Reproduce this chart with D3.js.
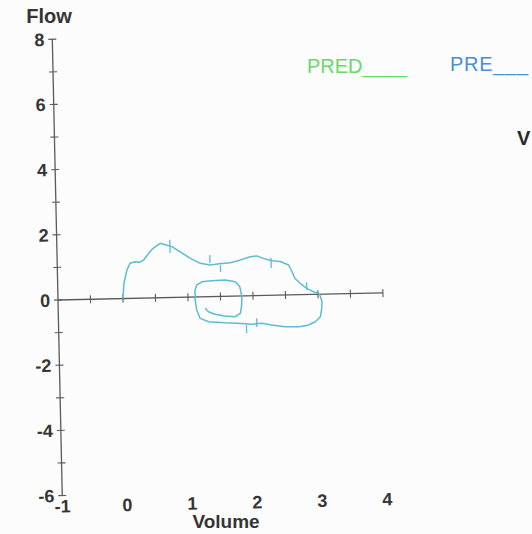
<!DOCTYPE html>
<html>
<head>
<meta charset="utf-8">
<script src="https://cdn.jsdelivr.net/npm/d3@7"></script>
<style>
  html, body { margin: 0; padding: 0; background: #fcfcfc; }
  svg { display: block; font-family: "Liberation Sans", Arial, sans-serif; }
</style>
</head>
<body>
<script>
var width = 532
var height = 534

// flow-volume loop (volume L, flow L/s)
var loopVolume = [0.00, 0.02, 0.07, 0.12, 0.20, 0.27, 0.33, 0.41, 0.48, 0.59, 0.67, 0.77, 0.89, 1.05, 1.20, 1.35,
	1.50, 1.66, 1.81, 1.97, 2.07, 2.17, 2.30, 2.43, 2.56, 2.61, 2.65, 2.73, 2.83, 2.93, 3.01, 3.03, 3.06, 3.05,
	3.03, 2.95, 2.84, 2.69, 2.48, 2.28, 2.13, 1.97, 1.82, 1.56, 1.31, 1.18, 1.13, 1.11, 1.11, 1.14, 1.22, 1.37,
	1.58, 1.73, 1.80, 1.83, 1.82, 1.80, 1.72, 1.56, 1.41, 1.31, 1.26]
var loopFlow = [0.00, 0.47, 0.87, 1.08, 1.12, 1.10, 1.17, 1.37, 1.52, 1.67, 1.62, 1.56, 1.40, 1.19, 1.03, 0.97,
	1.00, 1.03, 1.10, 1.20, 1.22, 1.14, 1.06, 1.03, 0.92, 0.71, 0.51, 0.35, 0.19, 0.08, 0.03, -0.02, -0.23, -0.49,
	-0.69, -0.84, -0.94, -0.98, -0.97, -0.91, -0.85, -0.87, -0.84, -0.81, -0.77, -0.66, -0.40, -0.09, 0.21, 0.37,
	0.46, 0.49, 0.50, 0.44, 0.29, -0.02, -0.33, -0.53, -0.63, -0.60, -0.54, -0.46, -0.35]

// little timing marks on the loop: [volume, flow top, flow bottom]
var loopMarks = [[0.74, 1.77, 1.37], [1.35, 1.28, 1.03], [1.51, 0.96, 0.75], [2.29, 1.15, 0.84],
	[2.83, 0.38, 0.14], [2.05, -0.69, -0.96], [1.89, -0.89, -1.14]]

var yTicks = [-6, -5, -4, -3, -2, -1, 0, 1, 2, 3, 4, 5, 6, 7, 8]
var yLabels = [-6, -4, -2, 0, 2, 4, 6, 8]
var xTicks = [-0.5, 0, 0.5, 1, 1.5, 2, 2.5, 3, 3.5, 4]
var xLabels = [-1, 0, 1, 2, 3, 4]

var svg = d3.select('body')
	.append('svg')
	.attr('width', width)
	.attr('height', height)

svg.append('rect')
	.attr('width', '100%')
	.attr('height', '100%')
	.attr('fill', '#fcfcfc')

var x = d3.scaleLinear().domain([-1, 4]).range([0, 325])
var y = d3.scaleLinear().domain([-6, 8]).range([195.6, -260.8])

// the scanned sheet is a bit tilted
var g = svg.append('g')
	.attr('transform', 'translate(58,300) rotate(-1.25)')

var axisColor = '#5a5a5a'
var textColor = '#353535'

// y axis
g.append('line')
	.attr('x1', x(-1)).attr('x2', x(-1))
	.attr('y1', y(8)).attr('y2', y(-6))
	.attr('stroke', axisColor).attr('stroke-width', 1.3)

g.selectAll('.ytick')
	.data(yTicks)
	.enter()
	.append('line')
	.attr('x1', x(-1) - 4).attr('x2', x(-1) + 4)
	.attr('y1', function(d){ return y(d) })
	.attr('y2', function(d){ return y(d) })
	.attr('stroke', axisColor).attr('stroke-width', 1.1)

g.selectAll('.ylabel')
	.data(yLabels)
	.enter()
	.append('text')
	.attr('x', x(-1) - 8)
	.attr('y', function(d){ return y(d) + 6.5 })
	.attr('text-anchor', 'end')
	.attr('font-size', 18)
	.attr('font-weight', 'bold')
	.attr('fill', textColor)
	.text(function(d){ return d })

// x axis (drawn at flow = 0)
g.append('line')
	.attr('x1', x(-1)).attr('x2', x(4))
	.attr('y1', y(0)).attr('y2', y(0))
	.attr('stroke', axisColor).attr('stroke-width', 1.3)

g.selectAll('.xtick')
	.data(xTicks)
	.enter()
	.append('line')
	.attr('x1', function(d){ return x(d) })
	.attr('x2', function(d){ return x(d) })
	.attr('y1', y(0) - 4).attr('y2', y(0) + 4)
	.attr('stroke', axisColor).attr('stroke-width', 1.1)

g.selectAll('.xlabel')
	.data(xLabels)
	.enter()
	.append('text')
	.attr('x', function(d){ return x(d) })
	.attr('y', y(-6) + 17)
	.attr('text-anchor', 'middle')
	.attr('font-size', 18)
	.attr('font-weight', 'bold')
	.attr('fill', textColor)
	.text(function(d){ return d })

// loop
var loopColor = '#5cbcd4'
var line = d3.line()
	.x(function(d){ return x(d[0]) })
	.y(function(d){ return y(d[1]) })

g.append('path')
	.datum(d3.zip(loopVolume, loopFlow))
	.attr('d', line)
	.attr('fill', 'none')
	.attr('stroke', loopColor)
	.attr('stroke-width', 1.5)
	.attr('stroke-linejoin', 'round')

g.selectAll('.mark')
	.data(loopMarks)
	.enter()
	.append('line')
	.attr('x1', function(d){ return x(d[0]) })
	.attr('x2', function(d){ return x(d[0]) })
	.attr('y1', function(d){ return y(d[1]) })
	.attr('y2', function(d){ return y(d[2]) })
	.attr('stroke', loopColor)
	.attr('stroke-width', 1.3)

// axis titles and legend
svg.append('text')
	.attr('x', 49).attr('y', 23)
	.attr('text-anchor', 'middle')
	.attr('font-size', 20).attr('font-weight', 'bold')
	.attr('fill', textColor)
	.text('Flow')

svg.append('text')
	.attr('x', 226).attr('y', 528)
	.attr('text-anchor', 'middle')
	.attr('font-size', 19).attr('font-weight', 'bold')
	.attr('fill', textColor)
	.text('Volume')

svg.append('text')
	.attr('x', 307).attr('y', 73)
	.attr('font-size', 20)
	.attr('fill', '#6ad86a')
	.text('PRED____')

svg.append('text')
	.attr('x', 450).attr('y', 71)
	.attr('font-size', 20)
	.attr('fill', '#4a8fd8')
	.attr('textLength', 78)
	.attr('lengthAdjust', 'spacing')
	.text('PRE___')

svg.append('text')
	.attr('x', 517).attr('y', 145)
	.attr('font-size', 20).attr('font-weight', 'bold')
	.attr('fill', '#2a2a2a')
	.text('V')
</script>
</body>
</html>
